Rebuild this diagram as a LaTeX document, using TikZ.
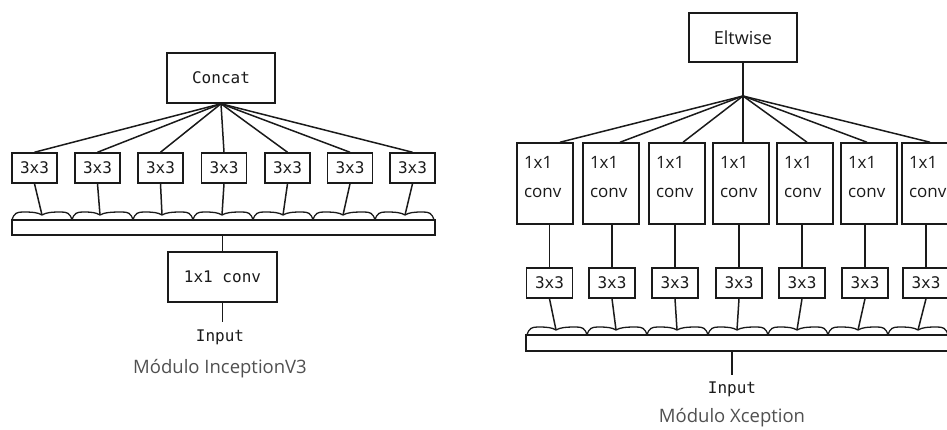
\documentclass[tikz,border=0pt]{standalone}
\usepackage{fontspec}
\newfontfamily\monof{DejaVu Sans Mono}
\newfontfamily\sansf{Open Sans}
\definecolor{ink}{HTML}{1A1A1A}
\definecolor{capgray}{HTML}{505050}
\newcommand\mywavyseg[4]{%
  \draw[wavel] (#1,#4) .. controls ({#1+2},{#4-7}) and ({#1+5},{#4-8}) .. ({#1+11},{#4-8})
    .. controls ({(#1+11+#2)/2},{#4-8}) and ({#2-4},{#4-7.5}) .. (#2,{#4-5})
    .. controls ({#2+4},{#4-7.5}) and ({(#2+#3-11)/2},{#4-8}) .. ({#3-11},{#4-8})
    .. controls ({#3-5},{#4-8}) and ({#3-2},{#4-7}) .. (#3,#4);}
\begin{document}
\begin{tikzpicture}[x=1pt,y=-1pt, color=ink, line width=1.5pt,
  mono/.style={font=\monof\fontsize{16}{18}\selectfont, text=ink},
  box3/.style={draw=ink, mono, minimum width=45pt, minimum height=30pt, inner sep=0pt},
  bigbox/.style={draw=ink, mono, inner sep=0pt},
  sbox/.style={draw=ink, font=\sansf\fontsize{18}{22}\selectfont, text=ink, inner sep=0pt},
  cbox/.style={draw=ink, font=\sansf\fontsize{17}{28.5}\selectfont, text=ink, align=left,
     text width=42pt, inner xsep=7pt, inner ysep=0pt, minimum height=81pt,
     text height=13pt, text depth=42pt},
  bar/.style={draw=ink, inner sep=0pt, minimum height=15pt},
  wavel/.style={draw=ink, line width=1.3pt},
  caption/.style={font=\sansf\fontsize{18.5}{22}\selectfont, text=capgray, inner sep=0pt},
  lbl/.style={mono, inner sep=0pt}]
\useasboundingbox (0,0) rectangle (947,430);
\clip (0,0) rectangle (947,430);

% ---------------- Left: Inception V3 ----------------
\node[bigbox, minimum width=108pt, minimum height=50pt] (concat) at (221,78) {Concat};
\foreach \i/\x in {1/34.5,2/97.5,3/160.5,4/224,5/287.5,6/350,7/412.5}{
  \node[box3] (a\i) at (\x,168) {3x3};
  \draw (concat.south) -- (a\i.north);
}
\foreach \i/\xa/\xc/\xb in {1/12/42/72,2/72/100/133,3/133/162/193,4/193/222/253,5/253/283/313,6/313/343/375,7/375/405/434}{
  \coordinate (wa\i) at (\xc,215);
  \mywavyseg{\xa}{\xc}{\xb}{220}
  \draw (a\i.south) -- (wa\i);
}
\node[bar, minimum width=423pt] (barA) at (223.5,227.5) {};
\node[bigbox, minimum width=109pt, minimum height=50pt] (convA) at (222.5,277) {1x1 conv};
\draw (convA.north |- barA.south) -- (convA.north);
\coordinate (inAtop) at (222.5,322);
\draw (convA.south) -- (inAtop);
\node[lbl] (inA) at (220,337) {Input};
\node[caption] (capA) at (220,369) {Módulo InceptionV3};

% ---------------- Right: Xception ----------------
\node[sbox, minimum width=108pt, minimum height=49pt] (elt) at (743,37.5) {Eltwise};
\coordinate (jB) at (743,96);
\draw (elt.south) -- (jB);
\foreach \i/\x/\o in {1/545/15,2/611/9,3/677/6,4/741/2,5/805/2,6/869/-2,7/930/0}{
  \node[cbox] (c\i) at (\x,183.5) {1x1\\conv};
  \draw (jB) -- ([xshift=\o pt]c\i.north);
}
\foreach \i/\x in {1/549.5,2/612,3/675,4/739,5/802,6/865,7/926}{
  \node[box3, minimum width=46pt] (t\i) at (\x,283) {3x3};
  \draw (t\i.north) -- (t\i.north |- c\i.south);
}
\foreach \i/\xa/\xc/\xb in {1/527/556/587,2/587/616/647,3/647/677/708,4/708/737/768,5/768/797/828,6/828/858/888,7/888/918/948}{
  \coordinate (wb\i) at (\xc,330);
  \mywavyseg{\xa}{\xc}{\xb}{335}
  \draw (t\i.south) -- (wb\i);
}
\node[bar, minimum width=444pt, minimum height=16pt] (barB) at (748,343) {};
\coordinate (inBtop) at (732,375);
\draw (inBtop |- barB.south) -- (inBtop);
\node[lbl] (inB) at (732,389) {Input};
\node[caption] (capB) at (732,418) {Módulo Xception};
\end{tikzpicture}
\end{document}
